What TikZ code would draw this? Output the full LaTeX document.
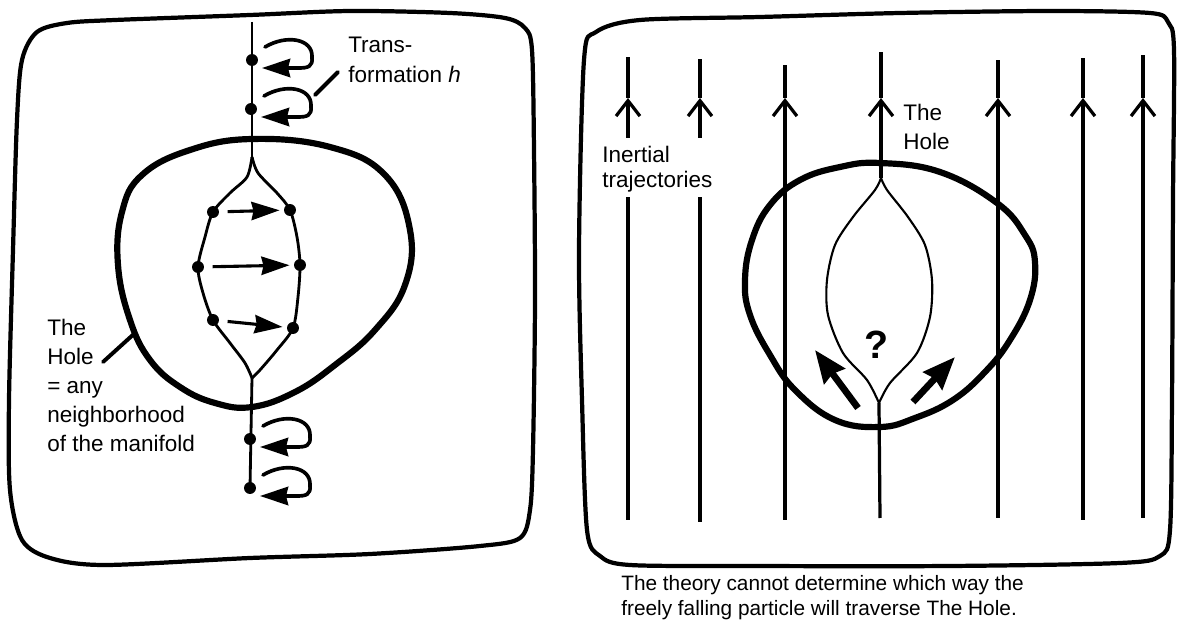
\documentclass[tikz,border=0pt]{standalone}
\usepackage{fontspec}
\setmainfont{Liberation Sans}
\usetikzlibrary{arrows.meta,calc,positioning}
\tikzset{
    panel/.style={line width=3pt, line join=round},
    hole/.style={line width=4.4pt},
    world/.style={line width=2pt},
    lens/.style={line width=1.5pt},
    traj/.style={line width=2.3pt},
    flow/.style={-{Straight Barb[length=11pt,width=17pt]}},
    dot/.style={circle, fill, inner sep=0pt, minimum size=8.5pt},
    hmove/.style={
        line width=2.2pt,
        -{Stealth[length=20pt,width=13pt,inset=1.5pt]},
        shorten <=6pt, shorten >=3pt
    },
    hcurl/.style={
        line width=2.6pt, line cap=round,
        -{Stealth[length=20pt,width=13pt,inset=1.5pt]}
    },
    push/.style={line width=4.8pt, -{Stealth[length=23pt,width=18pt,inset=2pt]}},
    leader/.style={line width=2.8pt, line cap=round},
    note/.style={
        align=left, inner sep=0pt, anchor=north west,
        font=\fontsize{16}{20.6}\selectfont
    }
}
\begin{document}
\begin{tikzpicture}[x=0.025cm, y=-0.025cm]
    \useasboundingbox (0,0) rectangle (1180,629);

    % left panel: the manifold with the hole transformation
    \draw[panel] plot[smooth cycle, tension=0.5] coordinates {
        (17,120) (22,60) (37,32) (67,23) (115,20) (250,15) (350,11)
        (450,13) (505,18) (525,28) (532,50) (534,150) (535,300)
        (533,450) (530,510) (520,538) (480,546) (370,554) (250,558)
        (105,565) (50,558) (22,540) (10,490) (9,400) (13,250)};
    \draw[hole] plot[smooth cycle, tension=0.7] coordinates {
        (252,139) (330,147) (385,175) (410,230) (405,285) (375,330)
        (335,365) (295,392) (252,407) (215,403) (180,387) (150,360)
        (130,320) (118,265) (122,212) (142,175) (190,150)};

    \coordinate (htop) at (252,22);
    \coordinate (hsplit) at (252,157);
    \coordinate (hmerge) at (252,378);
    \node[dot] (d1) at (252,60) {};
    \node[dot] (d2) at (251,109) {};
    \node[dot] (d3) at (250,439) {};
    \node[dot] (d4) at (250,488) {};
    \node[dot] (l1) at (213,212) {};
    \node[dot] (l2) at (198,267) {};
    \node[dot] (l3) at (213,320) {};
    \node[dot] (r1) at (290,210) {};
    \node[dot] (r2) at (300,265) {};
    \node[dot] (r3) at (293,328) {};

    \draw[world] (htop) -- (hsplit);
    \draw[world] (hmerge) -- (d4.center);
    \draw[world] plot[smooth] coordinates {(hsplit) (247,177) (230,193)
        (l1.center) (205,237) (l2.center) (203,293) (l3.center) (230,343)
        (245,363) (hmerge)};
    \draw[world] plot[smooth] coordinates {(hsplit) (258,173) (277,193)
        (r1.center) (297,237) (r2.center) (298,297) (r3.center) (277,350)
        (260,370) (hmerge)};

    \draw[hmove] (l1) -- (r1);
    \draw[hmove] (l2) -- (r2);
    \draw[hmove] (l3) -- (r3);

    \foreach \d in {d1,d2,d3,d4}
        \draw[hcurl] ($(\d)+(13,-13)$) .. controls ($(\d)+(35,-26)$)
            and ($(\d)+(61,-21)$) .. ($(\d)+(60,-3)$)
            .. controls ($(\d)+(61,7)$) and ($(\d)+(56,8)$) .. ($(\d)+(46,8)$)
            -- ($(\d)+(10,8)$);

    \node[note, font=\fontsize{16}{21.3}\selectfont] (trans) at (348,37)
        {Trans-\\formation \textit{h}};
    \coordinate (tl1) at (315,95);
    \coordinate (tl2) at (338,72);
    \draw[leader] (tl1) -- (tl2);

    \node[note] (holetxt) at (47,319)
        {The\\Hole\\= any\\neighborhood\\of the manifold};
    \coordinate (hl1) at (103,362);
    \coordinate (hl2) at (135,333);
    \draw[leader] (hl1) -- (hl2);

    % right panel: inertial trajectories through the hole
    \draw[panel] plot[smooth cycle, tension=0.5] coordinates {
        (579,250) (584,60) (596,32) (640,20) (760,17) (900,13)
        (1050,11) (1150,13) (1168,22) (1174,50) (1173,200) (1172,400)
        (1170,530) (1160,556) (1120,563) (950,566) (750,566) (630,565)
        (600,556) (587,530) (582,400)};
    \draw[hole] plot[smooth cycle, tension=0.7] coordinates {
        (880,163) (940,172) (997,203) (1025,235) (1035,262) (1030,300)
        (1010,340) (985,372) (953,400) (915,418) (880,427) (835,420)
        (795,390) (770,355) (750,315) (745,280) (752,240) (770,205)
        (800,180) (840,167)};

    \foreach \x/\t/\b in {785/65/520, 998/60/518, 1083/58/520, 1143/55/518} {
        \draw[traj, flow] (\x,\b) -- (\x,98);
        \draw[traj] (\x,98) -- (\x,\t);
    }
    \foreach \x/\t/\b in {628/57/520, 700/59/522} {
        \draw[traj] (\x,\b) -- (\x,197);
        \draw[traj, flow] (\x,138) -- (\x,98);
        \draw[traj] (\x,98) -- (\x,\t);
    }

    \coordinate (rsplit) at (881,178);
    \coordinate (rmerge) at (879,403);
    \draw[traj] (880,518) -- (rmerge);
    \draw[traj, flow] (rsplit) -- (881,98);
    \draw[traj] (881,98) -- (881,52);
    \draw[lens] plot[smooth] coordinates {(rsplit) (875,190) (853,217)
        (835,245) (827,280) (828,315) (843,353) (867,380) (rmerge)};
    \draw[lens] plot[smooth] coordinates {(rsplit) (887,190) (908,217)
        (925,245) (932,280) (930,317) (917,353) (890,383) (rmerge)};

    \coordinate (pl1) at (858,408);
    \coordinate (pl2) at (815,350);
    \coordinate (pr1) at (913,402);
    \coordinate (pr2) at (955,357);
    \draw[push] (pl1) -- (pl2);
    \draw[push] (pr1) -- (pr2);
    \node[font=\fontsize{28}{28}\selectfont\bfseries] (ask) at (877,345) {?};

    \node[note] (hole2) at (903,104) {The\\Hole};
    \node[note, font=\fontsize{16}{18}\selectfont] (inert) at (602,146)
        {Inertial\\trajectories};

    \node[note, font=\fontsize{14.8}{17.8}\selectfont] (caption) at (621,575)
        {The theory cannot determine which way the\\freely falling particle will traverse The Hole.};
\end{tikzpicture}
\end{document}
